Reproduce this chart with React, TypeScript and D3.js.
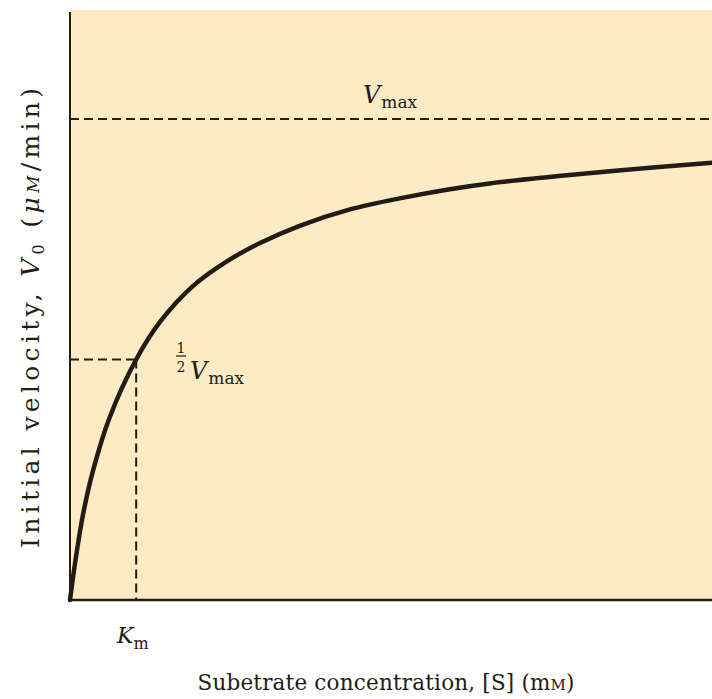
import React from "react";
import * as d3 from "d3";

// Substrate concentration (in units of Km) and initial velocity (% of Vmax)
const substrate = [0, 0.08, 0.2, 0.35, 0.6, 1.0, 1.36, 1.86, 2.37, 2.87, 3.47, 4.23, 4.98, 5.74, 6.34, 7.21, 8.2, 9.7];
const velocity = [0, 8, 18, 27, 38, 50, 57.8, 65.3, 70.4, 74.2, 77.8, 81.2, 83.5, 85.4, 86.6, 87.9, 89.2, 90.9];
const vmax = [100];
const km = [1];

const W = 712;
const H = 699;
const left = 70;
const right = 712;
const top = 10;
const bottom = 600;

export default function App() {
  const x = d3.scaleLinear().domain([0, 9.7]).range([left, right]);
  const y = d3.scaleLinear().domain([0, 100]).range([bottom, 119]);
  const pts = substrate.map((s, i) => [s, velocity[i]] as [number, number]);
  const line = d3
    .line<[number, number]>()
    .x((d) => x(d[0]))
    .y((d) => y(d[1]))
    .curve(d3.curveCatmullRom.alpha(0.5));

  const vm = vmax[0];
  const k = km[0];
  const ink = "#231c14";
  const font = "'DejaVu Serif', 'Liberation Serif', serif";

  return (
    <svg
      width={W}
      height={H}
      style={{ position: "absolute", left: 0, top: 0, background: "#fff" }}
      fontFamily={font}
    >
      <rect x={left} y={top} width={right - left} height={bottom - top} fill="#fdebc6" />
      {/* Vmax dashed */}
      <line x1={left} x2={right} y1={y(vm)} y2={y(vm)} stroke={ink} strokeWidth={2} strokeDasharray="9,5" />
      {/* half Vmax dashed */}
      <line x1={left} x2={x(k)} y1={y(vm / 2)} y2={y(vm / 2)} stroke={ink} strokeWidth={2} strokeDasharray="9,5" />
      <line x1={x(k)} x2={x(k)} y1={y(vm / 2)} y2={bottom} stroke={ink} strokeWidth={2} strokeDasharray="9,5" />
      {/* curve */}
      <path d={line(pts) || ""} fill="none" stroke={ink} strokeWidth={4.5} strokeLinecap="round" />
      {/* axes */}
      <line x1={left} x2={left} y1={12} y2={bottom + 1} stroke={ink} strokeWidth={2} />
      <line x1={left - 1} x2={right} y1={bottom} y2={bottom} stroke={ink} strokeWidth={2.5} />

      {/* Vmax label */}
      <text x={363} y={103} fill={ink} fontSize={24}>
        <tspan fontStyle="italic">V</tspan>
        <tspan fontSize={17} dy={5} dx={1}>max</tspan>
      </text>

      {/* 1/2 Vmax label */}
      <text x={181} y={353} fill={ink} fontSize={14} textAnchor="middle">1</text>
      <line x1={176} x2={186} y1={356} y2={356} stroke={ink} strokeWidth={1.2} />
      <text x={181} y={372} fill={ink} fontSize={14} textAnchor="middle">2</text>
      <text x={190} y={379} fill={ink} fontSize={24}>
        <tspan fontStyle="italic">V</tspan>
        <tspan fontSize={17} dy={5} dx={1}>max</tspan>
      </text>

      {/* Km label */}
      <text x={117} y={643} fill={ink} fontSize={22}>
        <tspan fontStyle="italic">K</tspan>
        <tspan fontSize={16} dy={6}>m</tspan>
      </text>

      {/* x-axis title */}
      <text x={386} y={690} fill={ink} fontSize={21.5} textAnchor="middle" textLength={377} lengthAdjust="spacing">
        Subetrate concentration, [S] (m<tspan fontSize={15}>M</tspan>)
      </text>

      {/* y-axis title */}
      <text
        transform={`translate(39, 318) rotate(-90)`}
        fill={ink}
        fontSize={25}
        textAnchor="middle"
        textLength={460}
        lengthAdjust="spacing"
      >
        Initial velocity, <tspan fontStyle="italic">V</tspan>
        <tspan fontSize={16} dy={5}>0</tspan>
        <tspan dy={-5}> (</tspan>
        <tspan fontStyle="italic">μ</tspan>
        <tspan fontStyle="italic" fontSize={17}>M</tspan>/min)
      </text>
    </svg>
  );
}
